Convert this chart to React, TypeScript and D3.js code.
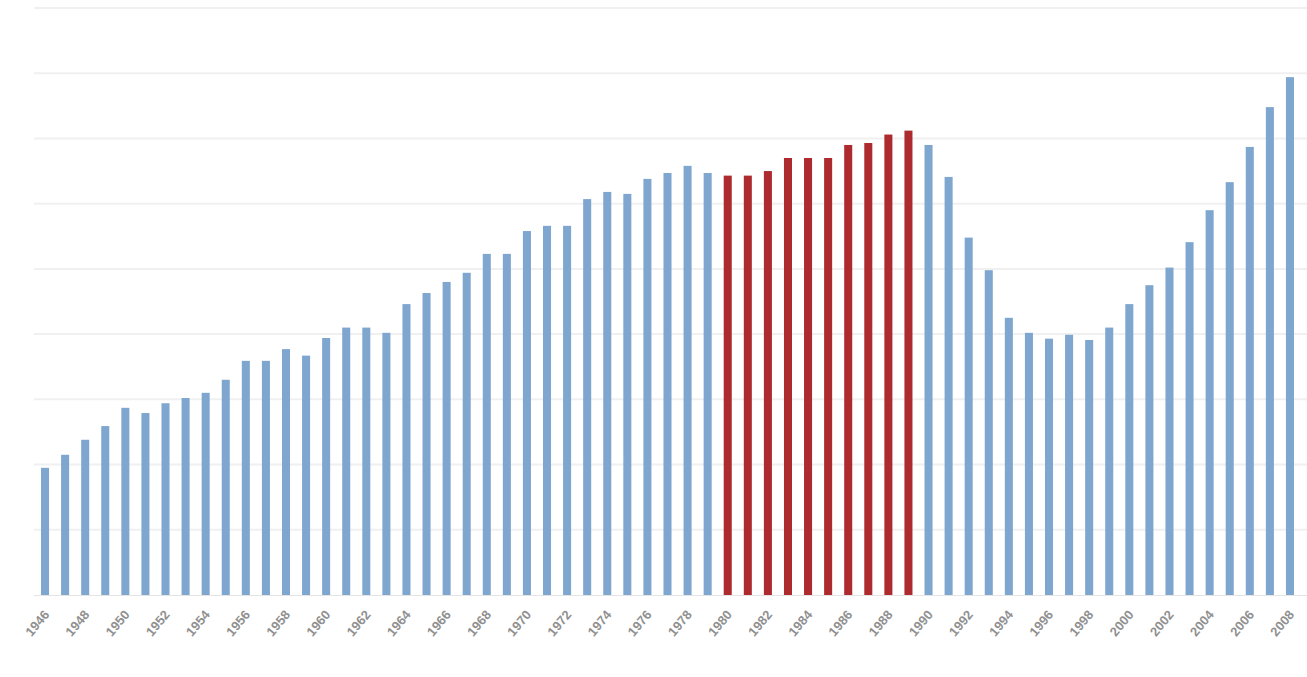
import React, { useEffect, useRef } from "react";
import * as d3 from "d3";

// years shown on the x axis (every bar), labels only on every other one
const years: number[] = d3.range(1946, 2009);

const values: number[] = [
  19.5, 21.5, 23.8, 25.9, 28.7, 27.9, 29.4, 30.2, 31.0, 33.0,
  35.9, 35.9, 37.7, 36.7, 39.4, 41.0, 41.0, 40.2, 44.6, 46.3,
  48.0, 49.4, 52.3, 52.3, 55.8, 56.6, 56.6, 60.7, 61.8, 61.5,
  63.8, 64.7, 65.8, 64.7, 64.3, 64.3, 65.0, 67.0, 67.0, 67.0,
  69.0, 69.3, 70.6, 71.2, 69.0, 64.1, 54.8, 49.8, 42.5, 40.2,
  39.3, 39.9, 39.1, 41.0, 44.6, 47.5, 50.2, 54.1, 59.0, 63.3,
  68.7, 74.8, 79.4,
];

const highlightYears: number[] = [1980, 1981, 1982, 1983, 1984, 1985, 1986, 1987, 1988, 1989];

const gridTicks: number[] = [0, 10, 20, 30, 40, 50, 60, 70, 80, 90];

const App = () => {
  const svgRef = useRef<SVGSVGElement>(null);

  useEffect(() => {
    const width = 1307;
    const height = 677;
    const svg = d3.select(svgRef.current);
    svg.selectAll("*").remove();

    const data = years.map((y, i) => ({ year: y, value: values[i] }));

    const x = d3
      .scaleBand<number>()
      .domain(years)
      .range([35, 1300])
      .paddingInner(0.6)
      .paddingOuter(0.3);

    const y = d3.scaleLinear().domain([0, 90]).range([595, 8]);

    // grid
    svg
      .append("g")
      .selectAll("line")
      .data(gridTicks.slice(1))
      .join("line")
      .attr("x1", 34)
      .attr("x2", width)
      .attr("y1", (d) => y(d))
      .attr("y2", (d) => y(d))
      .attr("stroke", "#f0f0f0")
      .attr("stroke-width", 2);

    // bars
    svg
      .append("g")
      .selectAll("rect")
      .data(data)
      .join("rect")
      .attr("x", (d) => x(d.year)!)
      .attr("y", (d) => y(d.value))
      .attr("width", x.bandwidth())
      .attr("height", (d) => y(0) - y(d.value))
      .attr("fill", (d) => (highlightYears.includes(d.year) ? "#ad2a2e" : "#7ea6cf"));

    // baseline
    svg
      .append("line")
      .attr("x1", 34)
      .attr("x2", width)
      .attr("y1", y(0) + 0.5)
      .attr("y2", y(0) + 0.5)
      .attr("stroke", "#e4e4e4");

    // x labels, every other year, rotated
    svg
      .append("g")
      .selectAll("text")
      .data(years.filter((_, i) => i % 2 === 0))
      .join("text")
      .attr(
        "transform",
        (d) => `translate(${x(d)! + x.bandwidth() / 2 + 5},${y(0) + 20}) rotate(-50)`
      )
      .attr("text-anchor", "end")
      .attr("font-family", "Liberation Sans, Arial, sans-serif")
      .attr("font-size", 13)
      .attr("font-weight", "bold")
      .attr("fill", "#909090")
      .text((d) => d);

    svg.attr("width", width).attr("height", height);
  }, []);

  return (
    <svg
      ref={svgRef}
      style={{ position: "absolute", left: 0, top: 0, background: "#fff" }}
    ></svg>
  );
};

export default App;
